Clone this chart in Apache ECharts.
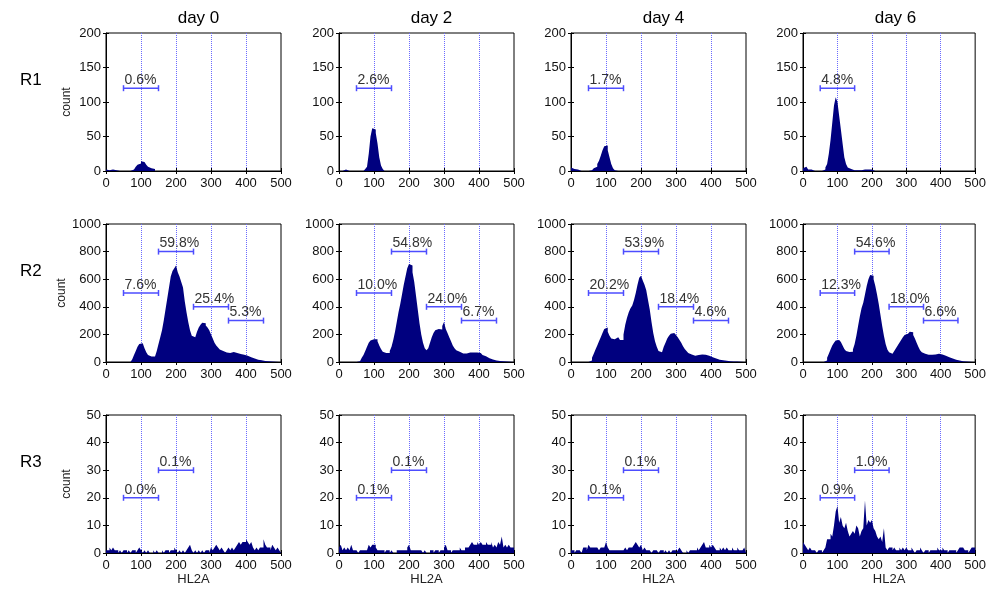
<!DOCTYPE html>
<html>
<head>
<meta charset="utf-8">
<script src="https://cdn.jsdelivr.net/npm/echarts@6/dist/echarts.min.js"></script>
<style>
  html, body { margin: 0; padding: 0; background: #fff; }
  #chart { width: 989px; height: 592px; }
</style>
</head>
<body>
<div id="chart"></div>
<script>
// columns / rows
const days = ['day 0', 'day 2', 'day 4', 'day 6'];
const rows = ['R1', 'R2', 'R3'];
const binWidth = 5;          // HL2A units per bin, 100 bins over 0..500
const yMax = [200, 1000, 50];
const yStep = [50, 200, 10];

// counts per bin (bin start = index * 5)
const R1_day0 = [
  2,1,1,2,2,1,0,0,0,0,0,0,0,0,0,2,4,6,9,11,
  14,13,12,9,6,4,5,3,0,0,0,0,0,0,0,0,0,0,0,0,
  0,0,0,0,0,0,0,0,0,0,0,0,0,0,0,0,0,0,0,0,
  0,0,0,0,0,0,0,0,0,0,0,0,0,0,0,0,0,0,0,0,
  0,0,0,0,0,0,0,0,0,0,0,0,0,0,0,0,0,0,0,0];
const R1_day2 = [
  0,0,0,2,2,0,0,0,0,0,0,0,0,0,1,3,6,25,50,62,
  60,55,40,20,8,3,0,0,0,0,0,0,0,0,0,0,0,0,0,0,
  0,0,0,0,0,0,0,0,0,0,0,0,0,0,0,0,0,0,0,0,
  0,0,0,0,0,0,0,0,0,0,0,0,0,0,0,0,0,0,0,0,
  0,0,0,0,0,0,0,0,0,0,0,0,0,0,0,0,0,0,0,0];
const R1_day4 = [
  5,3,2,2,1,0,0,0,0,0,0,1,2,4,6,10,15,22,30,36,
  37,30,20,10,4,1,0,0,0,0,0,0,0,0,0,0,0,0,0,0,
  0,0,0,0,0,0,0,0,0,0,0,0,0,0,0,0,0,0,0,0,
  0,0,0,0,0,0,0,0,0,0,0,0,0,0,0,0,0,0,0,0,
  0,0,0,0,0,0,0,0,0,0,0,0,0,0,0,0,0,0,0,0];
const R1_day6 = [
  4,6,4,2,2,1,0,0,0,0,0,0,2,5,10,25,45,70,95,107,
  100,80,60,40,20,10,5,3,2,1,2,1,2,1,0,2,1,2,0,2,
  1,0,0,0,0,0,0,0,0,0,0,0,0,0,0,0,0,0,0,0,
  0,0,0,0,0,0,0,0,0,0,0,0,0,0,0,0,0,0,0,0,
  0,0,0,0,0,0,0,0,0,0,0,0,0,0,0,0,0,0,0,0];

const R2_day0 = [
  0,0,0,0,0,0,0,0,0,0,0,0,0,0,5,20,50,80,110,130,
  135,125,100,70,50,40,35,40,50,80,130,180,230,300,380,460,540,620,660,680,
  700,650,620,580,540,440,360,290,230,190,180,190,220,250,270,285,280,265,250,230,
  200,170,140,120,105,90,80,72,68,64,66,70,72,70,65,62,58,55,52,50,
  45,40,35,30,25,20,17,14,12,10,8,6,5,4,3,2,1,1,0,0];
const R2_day2 = [
  0,0,0,0,0,0,0,0,0,0,0,5,15,30,50,80,110,140,155,165,
  170,165,150,120,95,75,65,60,65,80,110,160,220,290,360,420,490,560,620,680,
  710,700,650,580,480,380,280,200,140,100,85,100,140,180,210,230,240,230,235,260,
  290,240,210,180,150,120,100,85,75,65,62,60,62,65,68,70,68,66,68,70,
  65,58,50,42,35,28,22,18,14,11,9,7,6,5,4,3,3,2,2,1];
const R2_day4 = [
  0,0,0,0,0,0,0,0,0,0,2,10,30,60,90,120,150,180,210,240,
  250,220,190,170,165,175,180,170,160,160,200,270,320,360,390,410,450,500,560,610,
  625,590,560,520,450,380,290,210,150,110,80,70,80,110,140,170,190,205,210,205,
  195,180,160,140,115,95,80,65,55,48,45,45,50,52,55,55,52,48,45,40,
  35,30,25,20,17,14,12,10,9,8,6,5,4,3,3,2,1,0,0,0];
const R2_day6 = [
  0,0,0,0,0,0,0,0,0,0,0,0,3,10,30,60,90,120,140,155,
  160,158,145,120,95,80,72,70,75,90,130,190,260,330,390,430,490,550,600,630,
  625,600,550,490,420,340,260,190,130,90,70,60,65,80,100,120,140,160,180,195,
  205,210,220,215,195,170,140,110,85,70,60,55,52,50,52,55,55,58,60,58,
  55,50,45,40,35,30,25,20,16,12,10,8,6,5,4,3,2,1,1,1];

const R3_day0 = [
  1,1,2,1,2,1,1,0,1,0,1,1,0,1,0,1,1,0,1,2,
  1,0,1,0,1,0,0,1,0,1,0,0,1,0,1,1,0,1,1,2,
  1,0,1,0,1,0,1,2,3,1,0,1,0,1,0,1,0,1,1,0,
  2,1,2,3,2,1,2,1,0,1,2,1,2,1,2,3,4,3,4,4,
  5,4,3,4,2,1,2,1,2,2,5,3,2,2,1,3,2,1,2,1];
const R3_day2 = [
  2,3,1,2,1,2,1,3,1,1,1,0,1,1,1,1,1,3,2,3,
  3,2,1,1,1,1,0,1,1,0,1,0,0,1,1,1,1,1,1,2,
  3,1,1,1,1,1,1,1,0,1,0,0,1,1,0,1,1,0,1,1,
  2,3,1,1,0,1,1,1,1,2,1,1,2,2,2,3,4,3,3,4,
  3,4,3,3,4,3,3,4,2,3,2,4,3,6,2,3,2,3,2,2];
const R3_day4 = [
  1,1,0,1,1,1,0,2,2,1,3,2,2,2,2,2,1,2,2,2,
  4,2,1,1,1,1,1,1,1,1,1,2,1,2,2,2,3,4,3,2,
  3,1,2,1,1,1,0,1,1,1,0,1,1,0,1,0,1,0,1,1,
  0,1,2,1,0,0,1,0,1,1,1,1,2,1,2,3,4,2,2,3,
  2,3,2,1,1,2,1,2,1,2,1,1,2,1,1,2,1,1,1,2];
const R3_day6 = [
  4,3,2,1,2,1,1,1,0,1,1,0,1,2,5,5,7,6,10,15,
  17,11,13,10,9,11,8,6,7,8,7,10,9,6,8,9,19,10,12,11,
  12,9,8,6,5,6,4,9,2,1,2,2,1,2,1,1,2,1,2,1,
  2,1,1,2,1,0,1,1,2,1,0,1,1,0,1,1,1,1,2,1,
  1,2,1,1,0,1,1,1,1,0,1,2,2,2,1,1,0,1,2,2];

const hist = [
  [R1_day0, R1_day2, R1_day4, R1_day6],
  [R2_day0, R2_day2, R2_day4, R2_day6],
  [R3_day0, R3_day2, R3_day4, R3_day6]
];

// gates: [from, to, drawn at count]
const gatesR1 = [[50, 150, 120]];
const gatesR2 = [[50, 150, 500], [150, 250, 800], [250, 350, 400], [350, 450, 300]];
const gatesR3 = [[50, 150, 20], [150, 250, 30]];
const gates = [gatesR1, gatesR2, gatesR3];

// gate percentages, per row then per day
const pctR1 = [['0.6%'], ['2.6%'], ['1.7%'], ['4.8%']];
const pctR2 = [
  ['7.6%', '59.8%', '25.4%', '5.3%'],
  ['10.0%', '54.8%', '24.0%', '6.7%'],
  ['20.2%', '53.9%', '18.4%', '4.6%'],
  ['12.3%', '54.6%', '18.0%', '6.6%']
];
const pctR3 = [['0.0%', '0.1%'], ['0.1%', '0.1%'], ['0.1%', '0.1%'], ['0.9%', '1.0%']];
const pct = [pctR1, pctR2, pctR3];

// layout
const LEFTS = [106, 339, 571, 803];
const TOPS = [33, 224, 415];
const W = 175;
const H = 138;
const FONT = '"Liberation Sans", Arial, Helvetica, sans-serif';
const NAVY = '#00007f';
const GATE = '#4d4dff';

function histPoints(counts) {
  const pts = counts.map((v, i) => [i * binWidth, v]);
  pts.push([counts.length * binWidth, counts[counts.length - 1]]);
  return pts;
}

function gateRenderer(labels) {
  return function (params, api) {
    const a = api.coord([api.value(0), api.value(2)]);
    const b = api.coord([api.value(1), api.value(2)]);
    const st = { stroke: GATE, lineWidth: 1.5 };
    return {
      type: 'group',
      children: [
        { type: 'line', shape: { x1: a[0], y1: a[1], x2: b[0], y2: b[1] }, style: st },
        { type: 'line', shape: { x1: a[0], y1: a[1] - 3, x2: a[0], y2: a[1] + 3 }, style: st },
        { type: 'line', shape: { x1: b[0], y1: b[1] - 3, x2: b[0], y2: b[1] + 3 }, style: st },
        {
          type: 'text', x: a[0] + 1, y: a[1] - 1,
          style: {
            text: labels[params.dataIndex], fill: '#333',
            font: '14px ' + FONT, align: 'left', verticalAlign: 'bottom',
            textAlign: 'left', textVerticalAlign: 'bottom'
          }
        }
      ]
    };
  };
}

const grid = [], xAxis = [], yAxis = [], series = [];

rows.forEach((rowName, r) => {
  days.forEach((day, c) => {
    const p = r * 4 + c;
    grid.push({
      left: LEFTS[c], top: TOPS[r], width: W, height: H,
      show: true, borderColor: '#000', borderWidth: 1
    });
    const tick = { show: true, inside: true, length: 3, lineStyle: { color: '#000' } };
    xAxis.push({
      type: 'value', gridIndex: p, min: 0, max: 500, interval: 100,
      axisLine: { show: true, onZero: false, lineStyle: { color: '#000' } },
      axisTick: tick,
      axisLabel: { fontSize: 13, color: '#111', fontFamily: FONT, margin: 6, formatter: v => String(v) },
      splitLine: {
        show: true, showMinLine: false, showMaxLine: false,
        lineStyle: { color: '#6a6aff', type: 'dotted', width: 1 }
      },
      name: r === 2 ? 'HL2A' : '', nameLocation: 'middle', nameGap: 18,
      nameTextStyle: { fontSize: 13, color: '#222', fontFamily: FONT }
    });
    xAxis.push({
      type: 'value', gridIndex: p, min: 0, max: 500, interval: 100, position: 'top',
      axisLine: { show: false }, axisTick: tick, axisLabel: { show: false }, splitLine: { show: false }
    });
    yAxis.push({
      type: 'value', gridIndex: p, min: 0, max: yMax[r], interval: yStep[r],
      axisLine: { show: true, onZero: false, lineStyle: { color: '#000' } },
      axisTick: tick,
      axisLabel: { fontSize: 13, color: '#111', fontFamily: FONT, margin: 5, formatter: v => String(v) },
      splitLine: { show: false },
      name: c === 0 ? 'count' : '', nameLocation: 'middle', nameGap: 33, nameRotate: 90,
      nameTextStyle: { fontSize: 12, color: '#222', fontFamily: FONT }
    });
    yAxis.push({
      type: 'value', gridIndex: p, min: 0, max: yMax[r], interval: yStep[r], position: 'right',
      axisLine: { show: false }, axisTick: tick, axisLabel: { show: false }, splitLine: { show: false }
    });
    series.push({
      type: 'line', xAxisIndex: 2 * p, yAxisIndex: 2 * p,
      data: histPoints(hist[r][c]), step: 'end', symbol: 'none', silent: true,
      lineStyle: { width: 0, color: NAVY },
      areaStyle: { color: NAVY, opacity: 1 }
    });
    series.push({
      type: 'custom', xAxisIndex: 2 * p, yAxisIndex: 2 * p, silent: true,
      data: gates[r], encode: { x: [0, 1], y: 2 },
      renderItem: gateRenderer(pct[r][c]), z: 5
    });
  });
});

const chart = echarts.init(document.getElementById('chart'), null, { renderer: 'canvas' });
chart.setOption({
  animation: false,
  backgroundColor: '#fff',
  title: days.map((d, c) => ({
    text: d, left: LEFTS[c] + W / 2, top: 5, textAlign: 'center',
    textStyle: { fontSize: 17, fontWeight: 'normal', color: '#000', fontFamily: FONT }
  })),
  graphic: rows.map((name, r) => ({
    type: 'text', left: 20, top: TOPS[r] + H / 2 - 30,
    style: { text: name, font: '17px ' + FONT, fill: '#000' }
  })),
  grid: grid,
  xAxis: xAxis,
  yAxis: yAxis,
  series: series
});
</script>
</body>
</html>
